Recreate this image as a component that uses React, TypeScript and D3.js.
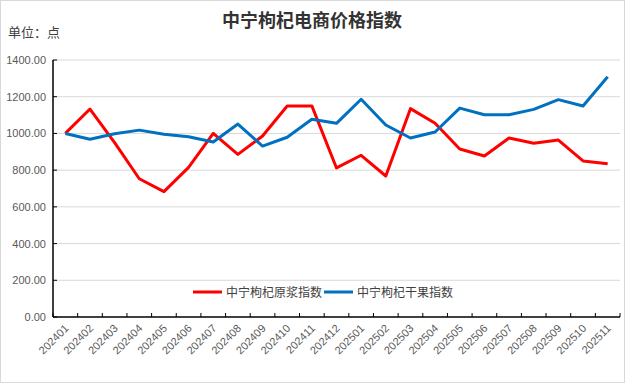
import React from "react";
import * as d3 from "d3";

const categories = ["202401","202402","202403","202404","202405","202406","202407","202408","202409","202410","202411","202412","202501","202502","202503","202504","202505","202506","202507","202508","202509","202510","202511"];
const rawIndex = [1000,1133,950,753,683,815,1000,886,986,1149,1150,812,881,768,1135,1055,915,877,975,946,964,850,835];
const dryIndex = [1000,968,998,1018,995,982,953,1051,931,979,1077,1055,1186,1046,975,1008,1138,1102,1102,1131,1184,1149,1309];
const yTicks = [0,200,400,600,800,1000,1200,1400];
const seriesNames = ["中宁枸杞原浆指数","中宁枸杞干果指数"];
const seriesColors = ["#ff0000","#0070c0"];

const W = 625, H = 383;
const left = 53, right = 620, top = 60, bottom = 317;

export default function App() {
  const x = d3.scaleBand().domain(categories).range([left, right]);
  const y = d3.scaleLinear().domain([0, 1400]).range([bottom, top]);
  const line = d3.line<number>()
    .x((_, i) => (x(categories[i]) as number) + x.bandwidth() / 2)
    .y((d) => y(d));
  const font = "'Microsoft YaHei','Noto Sans CJK SC','Noto Sans',sans-serif";
  const boundaries = categories.map((c) => x(c) as number).concat([right]);
  return (
    <div style={{ position: "fixed", left: 0, top: 0 }}>
      <svg width={W} height={H} style={{ display: "block" }}>
        <rect x={0.5} y={0.5} width={W - 1} height={H - 1} fill="#fff" stroke="#d9d9d9" />
        <text x={312} y={27} textAnchor="middle" fontFamily="'Noto Sans CJK SC',serif" fontWeight="bold" fontSize={18} fill="#333">中宁枸杞电商价格指数</text>
        <text x={8} y={37} fontFamily={font} fontSize={13} fill="#404040">单位：点</text>
        {yTicks.map((t) => (
          <g key={t}>
            {t > 0 && <line x1={left} x2={right} y1={y(t)} y2={y(t)} stroke="#d9d9d9" strokeWidth={1} />}
            <line x1={left} x2={left + 4} y1={y(t)} y2={y(t)} stroke="#000" />
            <text x={46} y={y(t) + 4} textAnchor="end" fontFamily="Arial,'Liberation Sans',sans-serif" fontSize={11} fill="#595959">{t.toFixed(2)}</text>
          </g>
        ))}
        <line x1={left} x2={left} y1={top} y2={bottom} stroke="#000" strokeWidth={1.5} />
        <line x1={left} x2={right} y1={bottom} y2={bottom} stroke="#000" strokeWidth={1.5} />
        {boundaries.map((b, i) => (
          <line key={i} x1={b} x2={b} y1={bottom} y2={bottom - 4} stroke="#000" />
        ))}
        {categories.map((c) => {
          const cx = (x(c) as number) + x.bandwidth() / 2 + 4;
          const cy = 329;
          return (
            <text key={c} x={cx} y={cy} textAnchor="end" transform={`rotate(-45 ${cx} ${cy})`} fontFamily="Arial,'Liberation Sans',sans-serif" fontSize={11} fill="#595959">{c}</text>
          );
        })}
        {[rawIndex, dryIndex].map((s, i) => (
          <path key={i} d={line(s) || ""} fill="none" stroke={seriesColors[i]} strokeWidth={3} strokeLinejoin="round" />
        ))}
        <line x1={193} x2={222} y1={292} y2={292} stroke={seriesColors[0]} strokeWidth={3} />
        <text x={226} y={296.5} fontFamily={font} fontSize={12} fill="#404040">{seriesNames[0]}</text>
        <line x1={324} x2={353} y1={292} y2={292} stroke={seriesColors[1]} strokeWidth={3} />
        <text x={357} y={296.5} fontFamily={font} fontSize={12} fill="#404040">{seriesNames[1]}</text>
      </svg>
    </div>
  );
}
